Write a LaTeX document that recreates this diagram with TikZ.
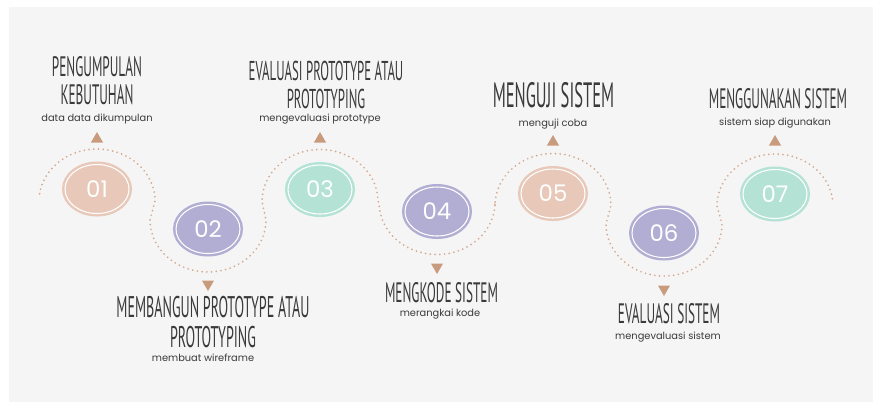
\documentclass[tikz,border=0pt]{standalone}
\usepackage{fontspec}
\usepackage{xcolor}
\usepackage{tikz}
\usetikzlibrary{shapes.geometric,calc,positioning}
\newfontfamily\judulfont[FakeStretch=0.47]{PT Sans}
\newfontfamily\ketfont{Poppins}
\newfontfamily\angkafont{Poppins}
\definecolor{bgabu}{HTML}{F5F5F5}
\definecolor{peach}{HTML}{E8C8B8}
\definecolor{lavender}{HTML}{B1ADD3}
\definecolor{mint}{HTML}{B4E3D6}
\definecolor{tan}{HTML}{C99B7D}
\definecolor{titik}{HTML}{D6AA91}
\definecolor{tinta}{HTML}{3A3A3A}

\tikzset{
  langkah/.style={ellipse,fill=#1,draw=white,line width=0.6pt,inner sep=0pt,outer sep=0pt,
    minimum width=12.8mm,minimum height=9.8mm,preaction={draw=#1,line width=1.2mm},
    text=white,font=\angkafont\fontsize{13}{13}\selectfont},
  panahatas/.style={regular polygon,regular polygon sides=3,fill=tan,inner sep=0pt,minimum size=2.8mm},
  panahbawah/.style={panahatas,shape border rotate=180},
  judul/.style={text=tinta,align=center,inner sep=0pt,font=\judulfont\fontsize{#1}{#1}\selectfont},
  ket/.style={text=tinta,inner sep=0pt,anchor=base,font=\ketfont\fontsize{5.6}{5.6}\selectfont},
  gelombang/.style={titik,line width=1.1pt,line cap=round,dash pattern=on 0pt off 2.7pt}
}

\begin{document}
\begin{tikzpicture}[x=0.2mm,y=-0.2mm]
  \useasboundingbox (0,0) rectangle (880,407);
  \fill[bgabu] (9,7) rectangle (873,402);

  % lingkaran tahapan
  \node[langkah=peach] (kumpul) at (97,189) {01};
  \node[langkah=lavender] (bangun) at (208,229) {02};
  \node[langkah=mint] (evalproto) at (320,189.5) {03};
  \node[langkah=lavender] (kode) at (437,211.5) {04};
  \node[langkah=peach] (uji) at (553,193.5) {05};
  \node[langkah=lavender] (evalsis) at (664,233) {06};
  \node[langkah=mint] (guna) at (775,194) {07};

  % garis titik-titik
  \draw[gelombang] ($(kumpul)+(-57.4,4.8)$) arc[start angle=188,end angle=360,x radius=58,y radius=52]
    -- ($(bangun)+(-58,-9)$) arc[start angle=180,end angle=0,x radius=58,y radius=52]
    -- ($(evalproto)+(-58,12)$) arc[start angle=180,end angle=360,x radius=58,y radius=52]
    -- ($(kode)+(-58,-9)$) arc[start angle=180,end angle=0,x radius=58,y radius=52]
    -- ($(uji)+(-58,12)$) arc[start angle=180,end angle=360,x radius=58,y radius=52]
    -- ($(evalsis)+(-58,-9)$) arc[start angle=180,end angle=0,x radius=58,y radius=52]
    -- ($(guna)+(-58,12)$) arc[start angle=180,end angle=352,x radius=58,y radius=52];

  % segitiga penunjuk
  \node[panahatas] (kumpul-panah) at (97,139) {};
  \node[panahbawah] (bangun-panah) at (208,284) {};
  \node[panahatas] (evalproto-panah) at (320,139) {};
  \node[panahbawah] (kode-panah) at (437,267) {};
  \node[panahatas] (uji-panah) at (553,142) {};
  \node[panahbawah] (evalsis-panah) at (664,289) {};
  \node[panahatas] (guna-panah) at (775,142) {};

  % judul
  \node[judul=16] (kumpul-judul) at (97,80.5) {PENGUMPULAN\\KEBUTUHAN};
  \node[judul=15.5] (evalproto-judul) at (326,85) {EVALUASI PROTOTYPE ATAU\\PROTOTYPING};
  \node[judul=20,anchor=base] (uji-judul) at (553.5,107) {MENGUJI SISTEM};
  \node[judul=16,anchor=base] (guna-judul) at (778,108) {MENGGUNAKAN SISTEM};
  \node[judul=17] (bangun-judul) at (213,322) {MEMBANGUN PROTOTYPE ATAU\\PROTOTYPING};
  \node[judul=16,anchor=base] (kode-judul) at (441.5,302) {MENGKODE SISTEM};
  \node[judul=16,anchor=base] (evalsis-judul) at (669,323) {EVALUASI SISTEM};

  % keterangan
  \node[ket] (kumpul-ket) at (97,121) {data data dikumpulan};
  \node[ket] (evalproto-ket) at (320,121) {mengevaluasi prototype};
  \node[ket] (uji-ket) at (553,126) {menguji coba};
  \node[ket] (guna-ket) at (775,125) {sistem siap digunakan};
  \node[ket] (bangun-ket) at (203,361) {membuat wireframe};
  \node[ket] (kode-ket) at (440,316) {merangkai kode};
  \node[ket] (evalsis-ket) at (668,339) {mengevaluasi sistem};
\end{tikzpicture}
\end{document}
